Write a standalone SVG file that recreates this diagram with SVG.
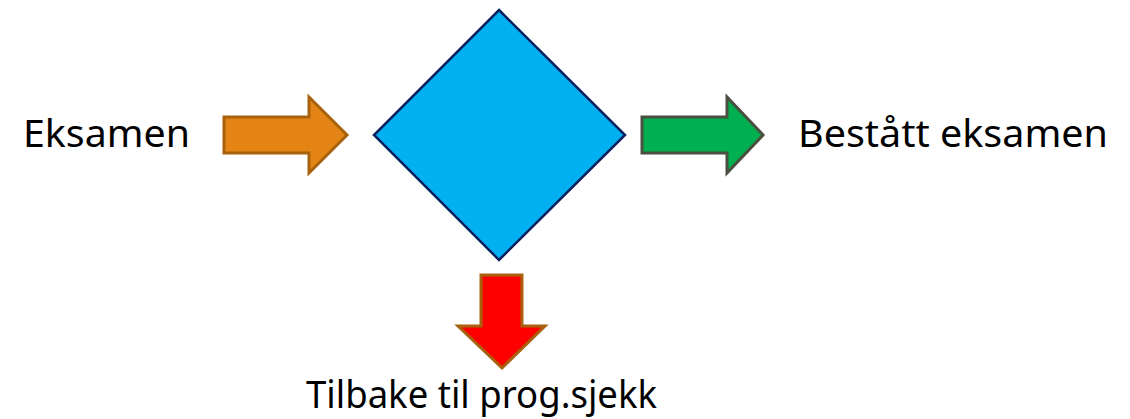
<svg xmlns="http://www.w3.org/2000/svg" width="1130" height="419" viewBox="0 0 1130 419">
<style>
.lbl{font-family:"Noto Sans","Open Sans","Liberation Sans",sans-serif;font-size:39px;fill:#000}
.arr{stroke-width:3;stroke-linejoin:miter}
</style>
<rect width="1130" height="419" fill="#fff"/>
<g id="diamond">
<polygon points="499,10 625,135 499,260 374,135" fill="#00B0F0" stroke="#0A2060" stroke-width="2.5"/>
</g>
<g id="connectors">
<polygon class="arr" points="224,117 309,117 309,97 347,135 309,173 309,153 224,153" fill="#E38414" stroke="#A8620E"/>
<polygon class="arr" points="642,117 727,117 727,97 763,135 727,173 727,153 642,153" fill="#00B050" stroke="#4A5040"/>
<polygon class="arr" points="481,275 522,275 522,326 545,326 502,368 458,326 481,326" fill="#FF0000" stroke="#A8620E"/>
</g>
<g id="label-eksamen"><text class="lbl" x="23" y="147" textLength="167" lengthAdjust="spacingAndGlyphs">Eksamen</text></g>
<g id="label-bestatt"><text class="lbl" x="798" y="147" textLength="310" lengthAdjust="spacingAndGlyphs">Bestått eksamen</text></g>
<g id="label-tilbake"><text class="lbl" x="306" y="408" textLength="351" lengthAdjust="spacingAndGlyphs">Tilbake til prog.sjekk</text></g>
</svg>
